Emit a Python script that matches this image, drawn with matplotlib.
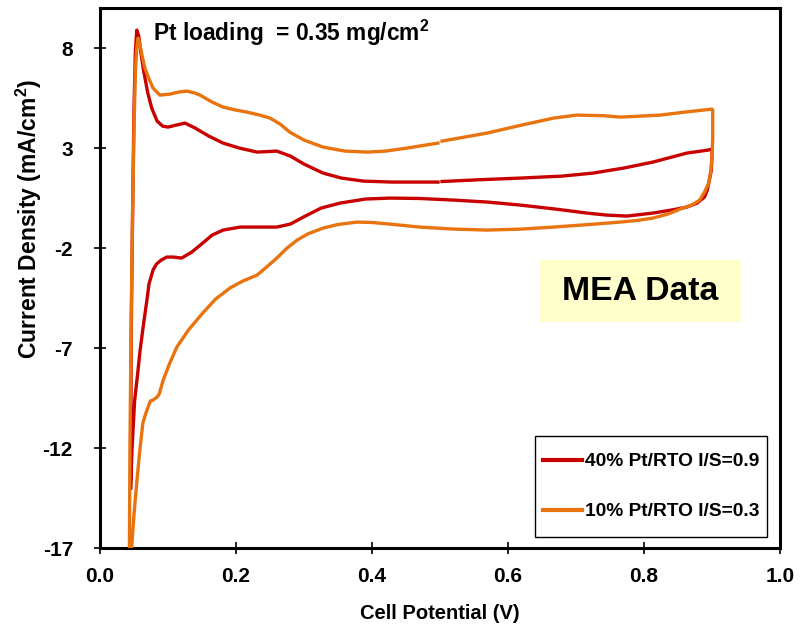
import matplotlib.pyplot as plt
import numpy as np
from matplotlib.patches import Rectangle

plt.rcParams['font.family'] = ['Liberation Sans', 'DejaVu Sans']
plt.rcParams['font.weight'] = 'bold'
plt.rcParams['axes.unicode_minus'] = False
plt.rcParams['mathtext.fontset'] = 'custom'
plt.rcParams['mathtext.rm'] = 'Liberation Sans:bold'
plt.rcParams['mathtext.bf'] = 'Liberation Sans:bold'

# 40% Pt/RTO I/S=0.9 (anodic sweep, then cathodic sweep); nan = break in data
red_v = [0.045, 0.046, 0.048, 0.050, 0.052, 0.054, 0.057, 0.060, 0.064, 0.070, 0.076, 0.084,
         0.092, 0.100, 0.112, 0.125, 0.140, 0.160, 0.181, 0.205, 0.231, 0.260, 0.280, 0.300,
         0.328, 0.355, 0.387, 0.430, 0.497, np.nan, 0.503, 0.560, 0.618, 0.680, 0.725, 0.770,
         0.813, 0.863, 0.894, 0.900,
         0.900, 0.899, 0.897, 0.893, 0.889, 0.878, 0.863, 0.840, 0.813, 0.775, 0.745, 0.716,
         0.670, 0.618, 0.570, 0.520, 0.470, 0.426, 0.390, 0.353, 0.325, 0.299, 0.280, 0.260,
         0.230, 0.206, 0.181, 0.165, 0.151, 0.135, 0.120, 0.108, 0.098, 0.090, 0.083, 0.078,
         0.072, 0.069, 0.064, 0.059, 0.055, 0.051, 0.049, 0.047, 0.045]
red_i = [-14.0, -6.0, 0.0, 5.0, 7.8, 8.9, 8.6, 7.8, 6.9, 5.8, 5.0, 4.35,
         4.1, 4.05, 4.15, 4.25, 4.0, 3.6, 3.25, 3.0, 2.8, 2.85, 2.6, 2.2,
         1.75, 1.5, 1.35, 1.3, 1.3, np.nan, 1.33, 1.42, 1.5, 1.6, 1.75, 2.0,
         2.3, 2.75, 2.9, 2.95,
         2.6, 1.9, 1.55, 0.9, 0.55, 0.25, 0.05, -0.1, -0.25, -0.4, -0.35, -0.25,
         -0.05, 0.15, 0.3, 0.4, 0.48, 0.5, 0.45, 0.25, 0.0, -0.45, -0.8, -0.95,
         -0.95, -0.95, -1.1, -1.35, -1.75, -2.2, -2.5, -2.45, -2.45, -2.6, -2.8, -3.1,
         -3.8, -4.6, -5.8, -7.1, -8.4, -9.6, -10.8, -12.1, -14.0]

# 10% Pt/RTO I/S=0.3
org_v = [0.043, 0.044, 0.046, 0.048, 0.050, 0.052, 0.054, 0.056, 0.058, 0.062, 0.066, 0.071,
         0.078, 0.088, 0.103, 0.115, 0.128, 0.140, 0.147, 0.165, 0.181, 0.200, 0.216, 0.235,
         0.250, 0.265, 0.279, 0.300, 0.328, 0.360, 0.393, 0.420, 0.451, 0.497, np.nan, 0.503,
         0.569, 0.620, 0.667, 0.701, 0.740, 0.765, 0.795, 0.824, 0.860, 0.900,
         0.901, 0.901, 0.900, 0.898, 0.895, 0.889, 0.882, 0.870, 0.857, 0.835, 0.813, 0.790,
         0.765, 0.720, 0.667, 0.620, 0.569, 0.520, 0.470, 0.426, 0.400, 0.378, 0.350, 0.328,
         0.305, 0.290, 0.275, 0.260, 0.245, 0.231, 0.210, 0.191, 0.170, 0.151, 0.130, 0.113,
         0.102, 0.093, 0.087, 0.084, 0.078, 0.074, 0.068, 0.063, 0.058, 0.054, 0.050, 0.047,
         0.045]
org_i = [-18.5, -12.0, -5.0, 0.0, 4.0, 6.8, 8.0, 8.5, 8.3, 7.6, 7.0, 6.55,
         6.0, 5.65, 5.7, 5.8, 5.85, 5.75, 5.65, 5.3, 5.05, 4.9, 4.8, 4.65,
         4.5, 4.2, 3.8, 3.4, 3.05, 2.85, 2.8, 2.85, 3.0, 3.25, np.nan, 3.35,
         3.75, 4.15, 4.5, 4.65, 4.62, 4.55, 4.6, 4.65, 4.8, 4.95,
         4.9, 3.5, 2.55, 1.8, 1.25, 0.8, 0.4, 0.15, 0.0, -0.3, -0.5, -0.62,
         -0.7, -0.82, -0.95, -1.05, -1.1, -1.05, -0.95, -0.8, -0.72, -0.7, -0.82, -1.0,
         -1.3, -1.6, -2.0, -2.5, -2.95, -3.35, -3.65, -4.0, -4.55, -5.25, -6.1, -6.95,
         -7.8, -8.6, -9.3, -9.45, -9.6, -9.65, -10.2, -10.75, -12.3, -13.75, -15.3, -16.75,
         -18.5]

x_ticks = [0.0, 0.2, 0.4, 0.6, 0.8, 1.0]
y_ticks = [8, 3, -2, -7, -12, -17]

fig = plt.figure(figsize=(8.02, 6.25), dpi=100)
ax = fig.add_axes([0.1247, 0.1232, 0.8479, 0.8638])

ax.plot(red_v, red_i, color='#C80000', lw=2.4, label='40% Pt/RTO I/S=0.9',
        solid_joinstyle='round', zorder=3)
ax.plot(org_v, org_i, color='#E8730F', lw=2.4, label='10% Pt/RTO I/S=0.3',
        solid_joinstyle='round', zorder=4)

ax.set_xlim(0, 1.0)
ax.set_ylim(-17, 10)
ax.set_xticks(x_ticks)
ax.set_xticklabels(['%.1f' % t for t in x_ticks])
ax.set_yticks(y_ticks)
ax.tick_params(direction='inout', length=9, width=1.2, labelsize=15)
ax.tick_params(axis='x', pad=9)
ax.tick_params(axis='y', pad=15)
for s in ax.spines.values():
    s.set_linewidth(2.2)

ax.set_xlabel('Cell Potential (V)', fontsize=14.5, fontweight='bold', labelpad=13)
ax.set_ylabel(r'Current Density (mA/cm$^\mathbf{2}$)', fontsize=16.5, fontweight='bold')
ax.yaxis.set_label_coords(-0.083, 0.61)

fig.text(0.191, 0.934, r'Pt loading  = 0.35 mg/cm$^\mathbf{2}$', fontsize=16.4,
         fontweight='bold', va='baseline')

ax.add_patch(Rectangle((0.647, 0.4185), 0.296, 0.1145, transform=ax.transAxes,
                       facecolor='#FFFFCC', edgecolor='none', zorder=2))
ax.text(0.794, 0.476, 'MEA Data', transform=ax.transAxes, fontsize=24.3,
        fontweight='bold', ha='center', va='center', zorder=5)

# legend frame drawn separately (padding differs horizontally/vertically)
ax.add_patch(Rectangle((0.640, 0.0204), 0.341, 0.187, transform=ax.transAxes,
                       facecolor='white', edgecolor='black', lw=1.0, zorder=5))
leg = ax.legend(loc='center', bbox_to_anchor=(0.8105, 0.1139), fontsize=13.8,
                frameon=False, handlelength=2.0, handletextpad=0.15, labelspacing=1.7,
                borderpad=0, borderaxespad=0)
leg.set_zorder(6)
for line in leg.get_lines():
    line.set_linewidth(3)

fig.savefig('out.png', dpi=100)
